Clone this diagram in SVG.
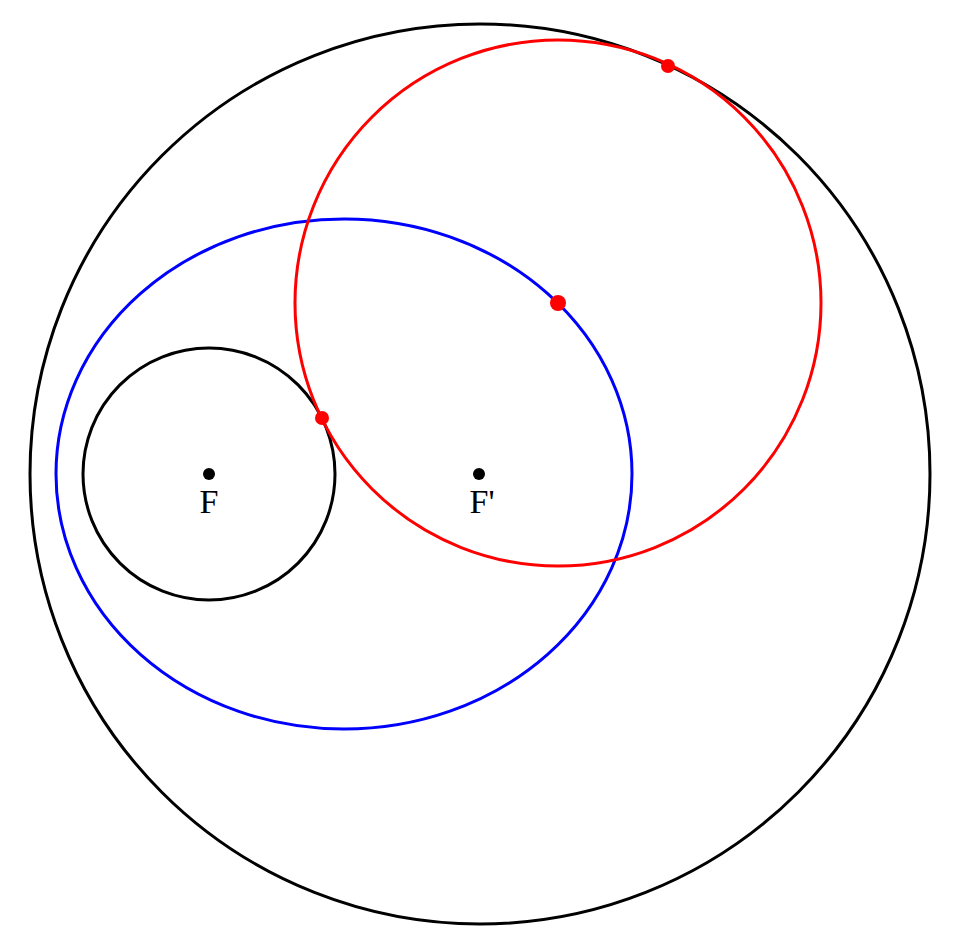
<svg xmlns="http://www.w3.org/2000/svg" width="965" height="939" viewBox="0 0 965 939">
<style>
.c{fill:none;stroke-width:3}
.t{font-family:"Liberation Serif",serif;font-size:34px;text-anchor:middle}
</style>
<rect width="965" height="939" fill="#fff"/>
<g id="outer"><circle class="c" cx="480" cy="474" r="450" stroke="#000"/></g>
<g id="inner"><circle class="c" cx="209" cy="474" r="126" stroke="#000"/></g>
<g id="ellipse"><ellipse class="c" cx="344" cy="474" rx="288" ry="255" stroke="#00f"/></g>
<g id="redcircle"><circle class="c" cx="558" cy="303" r="263" stroke="#f00"/></g>
<g id="points" fill="#f00">
<circle cx="668" cy="66" r="7"/>
<circle cx="558" cy="303" r="8"/>
<circle cx="322" cy="418" r="7"/>
</g>
<g id="F"><circle cx="209" cy="474" r="6"/><text class="t" x="209" y="513">F</text></g>
<g id="F2"><circle cx="479" cy="474" r="6"/><text class="t" x="482" y="513">F'</text></g>
</svg>
